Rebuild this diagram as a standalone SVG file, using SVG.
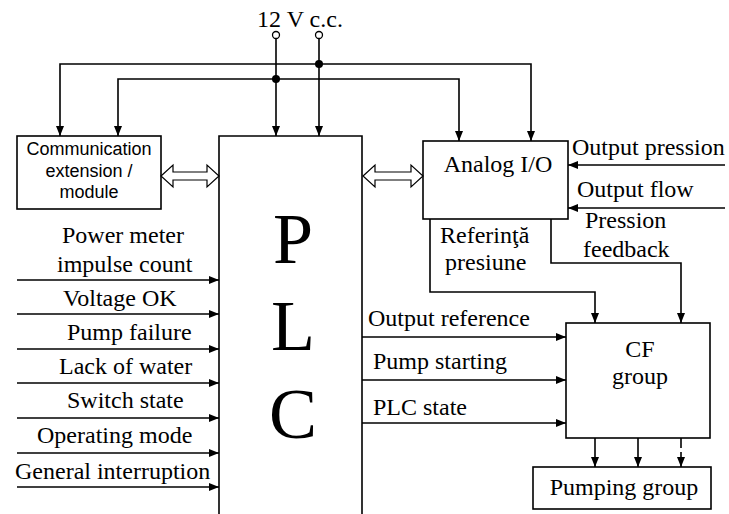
<svg xmlns="http://www.w3.org/2000/svg" width="729" height="514" viewBox="0 0 729 514">
<defs>
<marker id="ah" viewBox="0 0 10 8" refX="10" refY="4" markerWidth="10" markerHeight="8" markerUnits="userSpaceOnUse" orient="auto">
<path d="M0,0 L10,4 L0,8 Z" fill="#000"/>
</marker>
</defs>
<style>
.box{fill:#fff;stroke:#000;stroke-width:1.6}
.ln{fill:none;stroke:#000;stroke-width:1.6}
.ar{fill:none;stroke:#000;stroke-width:1.6;marker-end:url(#ah)}
.t{font-family:"Liberation Serif","Times New Roman",serif;font-size:24px;fill:#000}
.s{font-family:"Liberation Sans",Arial,sans-serif;font-size:18px;fill:#000;text-anchor:middle}
.big{font-family:"Liberation Serif","Times New Roman",serif;font-size:72px;fill:#000;text-anchor:middle}
.dbl{fill:#fff;stroke:#000;stroke-width:1.2}
</style>

<g id="supply">
<text class="t" x="300" y="27" text-anchor="middle">12 V c.c.</text>
</g>

<g id="comm">
<rect class="box" x="17" y="136" width="144" height="73"/>
<text class="s" x="89" y="155">Communication</text>
<text class="s" x="89" y="177">extension /</text>
<text class="s" x="89" y="198">module</text>
</g>

<g id="plc">
<path class="ln" d="M219,514 V136 H362 V514"/>
<text class="big" x="293" y="263">P</text>
<text class="big" x="293" y="350">L</text>
<text class="big" x="293" y="438">C</text>
</g>

<g id="analog">
<rect class="box" x="423" y="141" width="145" height="78"/>
<text class="t" x="498" y="172" text-anchor="middle">Analog I/O</text>
</g>

<g id="cf">
<rect class="box" x="566" y="323" width="144" height="115"/>
<text class="t" x="640" y="357" text-anchor="middle">CF</text>
<text class="t" x="640" y="384" text-anchor="middle">group</text>
</g>

<g id="pumping">
<rect class="box" x="533" y="467" width="178" height="42"/>
<text class="t" x="624" y="495" text-anchor="middle">Pumping group</text>
</g>

<g id="connectors">
<circle cx="276" cy="35" r="3.5" fill="#fff" stroke="#000" stroke-width="1.3"/>
<circle cx="319" cy="35" r="3.5" fill="#fff" stroke="#000" stroke-width="1.3"/>
<line class="ar" x1="276" y1="38.5" x2="276" y2="136"/>
<line class="ar" x1="319" y1="38.5" x2="319" y2="136"/>
<path class="ar" d="M319,64 H60 V136"/>
<path class="ar" d="M319,64 H531 V141"/>
<path class="ar" d="M276,79 H118 V136"/>
<path class="ar" d="M276,79 H459 V141"/>
<circle cx="319" cy="64" r="4" fill="#000"/>
<circle cx="276" cy="79" r="4" fill="#000"/>

<path class="dbl" d="M161,176 L173,165 V172 H207 V165 L219,176 L207,187 V180 H173 V187 Z"/>
<path class="dbl" d="M363,176 L375,165 V172 H411 V165 L423,176 L411,187 V180 H375 V187 Z"/>

<line class="ar" x1="725" y1="165" x2="568" y2="165"/>
<line class="ar" x1="725" y1="208" x2="568" y2="208"/>
<text class="t" x="572" y="155">Output pression</text>
<text class="t" x="577" y="197">Output flow</text>

<path class="ar" d="M430,219 V292 H595 V323"/>
<path class="ar" d="M551,219 V263 H681 V323"/>
<text class="t" x="440" y="243">Referinţă</text>
<text class="t" x="445" y="270">presiune</text>
<text class="t" x="585" y="228">Pression</text>
<text class="t" x="583" y="257">feedback</text>

<line class="ar" x1="17" y1="280" x2="219" y2="280"/>
<line class="ar" x1="17" y1="314" x2="219" y2="314"/>
<line class="ar" x1="17" y1="349" x2="219" y2="349"/>
<line class="ar" x1="17" y1="383" x2="219" y2="383"/>
<line class="ar" x1="17" y1="418" x2="219" y2="418"/>
<line class="ar" x1="17" y1="453" x2="219" y2="453"/>
<line class="ar" x1="17" y1="487" x2="219" y2="487"/>
<text class="t" x="62" y="243">Power meter</text>
<text class="t" x="57" y="272">impulse count</text>
<text class="t" x="63" y="306">Voltage OK</text>
<text class="t" x="67" y="340">Pump failure</text>
<text class="t" x="59" y="374">Lack of water</text>
<text class="t" x="67" y="408">Switch state</text>
<text class="t" x="37" y="443">Operating mode</text>
<text class="t" x="15" y="479">General interruption</text>

<line class="ar" x1="362" y1="337" x2="566" y2="337"/>
<line class="ar" x1="362" y1="380" x2="566" y2="380"/>
<line class="ar" x1="362" y1="423" x2="566" y2="423"/>
<text class="t" x="368" y="326">Output reference</text>
<text class="t" x="373" y="369">Pump starting</text>
<text class="t" x="373" y="415">PLC state</text>

<line class="ar" x1="595" y1="438" x2="595" y2="467"/>
<line class="ar" x1="638" y1="438" x2="638" y2="467"/>
<line class="ln" x1="681" y1="438" x2="681" y2="448"/>
<line class="ar" x1="681" y1="452" x2="681" y2="467"/>
</g>
</svg>
